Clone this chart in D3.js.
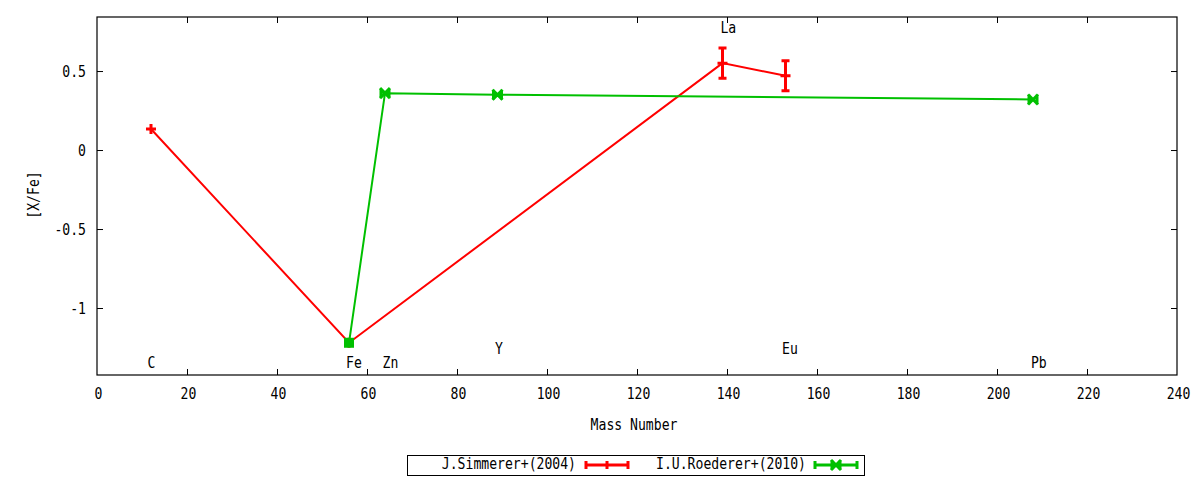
<!DOCTYPE html>
<html><head><meta charset="utf-8">
<script src="https://cdn.jsdelivr.net/npm/d3@7/dist/d3.min.js"></script>
<style>
body{margin:0;background:#fff;}
text{font-family:"DejaVu Sans Mono",monospace;font-size:15px;fill:#000;}
</style></head>
<body>
<svg id="c" width="1200" height="480"></svg>
<script>
// Data
const simmererMass = [12, 56, 139, 153];
const simmererVal = [0.133, -1.22, 0.55, 0.47];
const simmererErr = [0, 0, 0.095, 0.095];
const roedererMass = [56, 64, 89, 208];
const roedererVal = [-1.22, 0.36, 0.35, 0.32];
const elementNames = ["C", "Fe", "Zn", "Y", "La", "Eu", "Pb"];
const elementMass = [12.1, 57.1, 65.2, 89.3, 140.3, 154.0, 209.3];
const elementLabelY = [-1.38, -1.38, -1.38, -1.291, 0.741, -1.291, -1.38];
const xTicks = [0,20,40,60,80,100,120,140,160,180,200,220,240];
const yTicks = [0.5, 0, -0.5, -1];
const seriesNames = ["J.Simmerer+(2004)", "I.U.Roederer+(2010)"];

const svg = d3.select("#c");
const L=97,R=1177,T=17,B=375;
const x = d3.scaleLinear().domain([0,240]).range([L,R]);
const y = d3.scaleLinear().domain([-1.424,0.842]).range([B,T]);
const SX = 0.875;

function txt(px,py,s,anchor,rot){
  const t = svg.append("text").attr("text-anchor",anchor||"middle").text(s);
  t.attr("transform",`translate(${px},${py})${rot?` rotate(${rot})`:""} scale(${SX},1)`);
  return t;
}

// axes (lines from d3 axes)
const g = svg.append("g");
const ax = g.append("g").attr("transform",`translate(0,${B})`)
 .call(d3.axisBottom(x).tickValues(xTicks.slice(1,-1)).tickSizeInner(-6).tickSizeOuter(0).tickFormat(""));
const axT = g.append("g").attr("transform",`translate(0,${T})`)
 .call(d3.axisTop(x).tickValues(xTicks.slice(1,-1)).tickSizeInner(-6).tickSizeOuter(0).tickFormat(""));
const ay = g.append("g").attr("transform",`translate(${L},0)`)
 .call(d3.axisLeft(y).tickValues(yTicks).tickSizeInner(-6).tickSizeOuter(0).tickFormat(""));
const ayR = g.append("g").attr("transform",`translate(${R},0)`)
 .call(d3.axisRight(y).tickValues(yTicks).tickSizeInner(-6).tickSizeOuter(0).tickFormat(""));
[ax,axT,ay,ayR].forEach(a=>{a.select(".domain").remove();a.selectAll("line").attr("stroke","#000");a.selectAll("text").remove();});
g.append("rect").attr("x",L).attr("y",T).attr("width",R-L).attr("height",B-T)
 .attr("fill","none").attr("stroke","#000").attr("stroke-width",1.2);

xTicks.forEach(v=>txt(x(v)+1.5,399,String(v)));
yTicks.forEach(v=>txt(86,y(v)+5.5,String(v),"end"));

txt(634,430,"Mass Number");
txt(39,195,"[X/Fe]","middle",-90);

// element labels
elementNames.forEach((n,i)=>txt(x(elementMass[i]),y(elementLabelY[i]),n));

const line = d3.line().x(d=>x(d[0])).y(d=>y(d[1]));
const red="#ff0000", green="#00c000";

// red series
const rd = simmererMass.map((m,i)=>[m,simmererVal[i],simmererErr[i]]);
svg.append("path").attr("d",line(rd)).attr("fill","none").attr("stroke",red).attr("stroke-width",2);
rd.forEach(d=>{
  const cx=x(d[0]),cy=y(d[1]);
  if(d[2]>0){
    const y1=y(d[1]+d[2]),y2=y(d[1]-d[2]);
    svg.append("path").attr("d",`M${cx},${y1}V${y2}M${cx-4},${y1}H${cx+4}M${cx-4},${y2}H${cx+4}`)
     .attr("stroke",red).attr("stroke-width",3).attr("fill","none");
  }
  svg.append("path").attr("d",`M${cx-5},${cy}H${cx+5}M${cx},${cy-5}V${cy+5}`).attr("stroke",red).attr("stroke-width",3);
});

// green series
const gd = roedererMass.map((m,i)=>[m,roedererVal[i]]);
svg.append("path").attr("d",line(gd)).attr("fill","none").attr("stroke",green).attr("stroke-width",2);
function bowtie(cx,cy){
  svg.append("path").attr("d",`M${cx-5},${cy-5}L${cx+5},${cy+5}M${cx-5},${cy+5}L${cx+5},${cy-5}M${cx-4},${cy-5}V${cy+5}M${cx+4},${cy-5}V${cy+5}`)
   .attr("stroke",green).attr("stroke-width",3).attr("fill","none");
}
gd.forEach((d,i)=>{
  if(i===0){svg.append("rect").attr("x",x(d[0])-5).attr("y",y(d[1])-5).attr("width",10).attr("height",10).attr("fill",green);}
  else bowtie(x(d[0]),y(d[1]));
});

// legend
svg.append("rect").attr("x",407.5).attr("y",455.5).attr("width",457).attr("height",20)
 .attr("fill","none").attr("stroke","#000").attr("stroke-width",1);
txt(576,469,seriesNames[0],"end");
svg.append("path").attr("d","M586,465H628M586,461V469M628,461V469M607,461V469").attr("stroke",red).attr("stroke-width",3).attr("fill","none");
txt(806,469,seriesNames[1],"end");
svg.append("path").attr("d","M815,465H857M815,461V469M857,461V469").attr("stroke",green).attr("stroke-width",3).attr("fill","none");
bowtie(836,465);
</script>
</body></html>
